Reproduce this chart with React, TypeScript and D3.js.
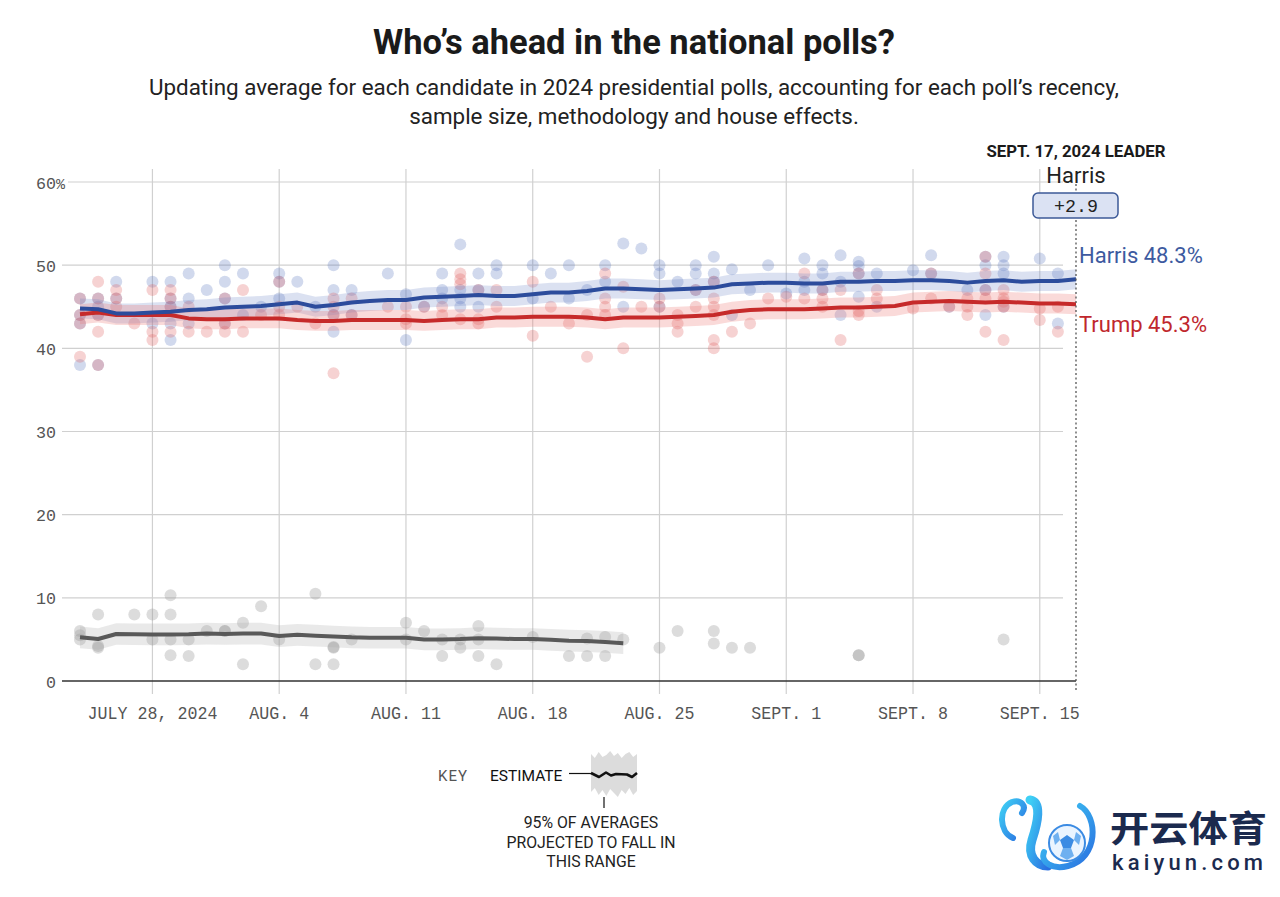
import React from "react";
import * as d3 from "d3";

const W = 1280;
const H = 897;

// ---------- DATA ----------
const avgStart = "2024-07-24";
const harrisAvg = [
  44.8, 44.7, 44.2, 44.2, 44.3, 44.4, 44.6, 44.7,
  44.9, 45.0, 45.1, 45.3, 45.5, 45.0, 45.2, 45.5, 45.7, 45.8, 45.8, 46.1, 46.2, 46.3, 46.4, 46.3, 46.3, 46.5,
  46.7, 46.7, 46.9, 47.2, 47.2, 47.1, 47.0, 47.1, 47.2, 47.3, 47.7, 47.8, 47.9,
  47.9, 47.8, 47.8, 48.0, 48.0, 48.1, 48.1, 48.2, 48.2, 48.1, 47.9, 48.1, 48.2, 48.0, 48.1, 48.1, 48.3,
];
const trumpAvg = [
  44.1, 44.3, 44.0, 44.0, 44.0, 44.0, 43.6, 43.5,
  43.5, 43.6, 43.6, 43.6, 43.4, 43.3, 43.3, 43.4, 43.4, 43.4, 43.4, 43.3, 43.4, 43.5, 43.5, 43.7, 43.7, 43.8,
  43.8, 43.8, 43.7, 43.5, 43.7, 43.7, 43.7, 43.8, 43.9, 44.0, 44.4, 44.6, 44.7,
  44.7, 44.7, 44.8, 44.9, 44.9, 45.0, 45.1, 45.5, 45.6, 45.7, 45.6, 45.5, 45.6, 45.5, 45.4, 45.4, 45.3,
];
const otherAvg = [
  5.25, 5.05, 5.65, 5.62, 5.6, 5.6, 5.62, 5.7,
  5.65, 5.7, 5.7, 5.4, 5.55, 5.45, 5.35, 5.25, 5.2, 5.2, 5.2, 5.0, 5.0, 5.05, 5.15, 5.1, 5.05, 5.05,
  4.95, 4.85, 4.8, 4.7, 4.55,
];
const bandHalf = { harris: 1.2, trump: 1.2, other: 1.3 };

const harrisPolls: [string, number[]][] = [
  ["07-24", [46, 44, 43, 38]], ["07-25", [46, 45, 44, 38]], ["07-26", [48, 46]],
  ["07-28", [48, 43]], ["07-29", [48, 46, 45, 43, 41]], ["07-30", [49, 46, 43]], ["07-31", [47]],
  ["08-01", [50, 48, 46, 43]], ["08-02", [49, 44]], ["08-03", [45]], ["08-04", [49, 48, 46]],
  ["08-05", [48]], ["08-06", [45]], ["08-07", [50, 47, 44, 42]], ["08-08", [47, 44]], ["08-10", [49]],
  ["08-11", [46.5, 41]], ["08-12", [45]], ["08-13", [49, 47, 46]], ["08-14", [52.5, 47, 46, 45]],
  ["08-15", [49, 47, 45]], ["08-16", [50, 49]], ["08-18", [50, 46]], ["08-19", [49]], ["08-20", [50, 46]],
  ["08-21", [47]], ["08-22", [50, 48]], ["08-23", [52.6, 45]], ["08-24", [52]], ["08-25", [50, 49, 45]],
  ["08-26", [48]], ["08-27", [50, 49, 47]], ["08-28", [51, 49, 48]], ["08-29", [49.5, 44]], ["08-30", [47]],
  ["08-31", [50]], ["09-01", [46.6]], ["09-02", [50.8, 48, 47]], ["09-03", [50, 49, 47]],
  ["09-04", [51.2, 48, 44]], ["09-05", [50.4, 49.9, 49, 46.2]], ["09-06", [49, 45]], ["09-08", [49.4]],
  ["09-09", [51.2, 49]], ["09-10", [45]], ["09-11", [47]], ["09-12", [51, 50, 47, 44]],
  ["09-13", [51, 50, 49, 45]], ["09-15", [50.8]], ["09-16", [49, 43]],
];
const trumpPolls: [string, number[]][] = [
  ["07-24", [46, 44, 43, 39]], ["07-25", [48, 46, 44, 42, 38]], ["07-26", [47, 46, 45]], ["07-27", [43]],
  ["07-28", [47, 42, 41]], ["07-29", [47, 46, 45, 42]], ["07-30", [45, 42]], ["07-31", [42]],
  ["08-01", [46, 43, 42]], ["08-02", [47, 42]], ["08-03", [44]], ["08-04", [48, 45, 44]], ["08-05", [45]],
  ["08-06", [43]], ["08-07", [46, 45, 44, 37]], ["08-08", [46, 44]], ["08-10", [45]], ["08-11", [45, 43.5, 43]],
  ["08-12", [45]], ["08-13", [45, 44]], ["08-14", [49, 48.3, 47.7, 43.5]], ["08-15", [47, 43.5, 43]],
  ["08-16", [47, 45]], ["08-18", [48, 41.5]], ["08-19", [45]], ["08-20", [43]], ["08-21", [44, 39]],
  ["08-22", [49, 46, 45, 44]], ["08-23", [47.4, 40]], ["08-24", [45]], ["08-25", [46, 45]],
  ["08-26", [44, 43, 42]], ["08-27", [47, 45]], ["08-28", [48, 46, 45, 44, 41, 40]], ["08-29", [42]],
  ["08-30", [43]], ["08-31", [46]], ["09-01", [46.2]], ["09-02", [49, 46]], ["09-03", [47, 46, 45]],
  ["09-04", [47, 41]], ["09-05", [49, 44.5, 44]], ["09-06", [47, 46]], ["09-08", [44.8]], ["09-09", [49, 46]],
  ["09-10", [45]], ["09-11", [46, 45, 44]], ["09-12", [51, 49, 47, 46, 42]], ["09-13", [47, 46, 45.6, 45, 41]],
  ["09-15", [44.8, 43.4]], ["09-16", [45, 42]],
];
const otherPolls: [string, number[]][] = [
  ["07-24", [6, 5.5, 5]], ["07-25", [8, 4.2, 4]], ["07-27", [8]], ["07-28", [8, 5]],
  ["07-29", [10.3, 8, 5, 3.1]], ["07-30", [5, 3]], ["07-31", [6]], ["08-01", [6, 6]], ["08-02", [7, 2]],
  ["08-03", [9]], ["08-04", [5]], ["08-06", [10.5, 2]], ["08-07", [4.1, 4, 2]], ["08-08", [5]],
  ["08-11", [7, 5]], ["08-12", [6]], ["08-13", [5, 3]], ["08-14", [5, 4]], ["08-15", [6.6, 5, 3]],
  ["08-16", [2]], ["08-18", [5.3]], ["08-20", [3]], ["08-21", [5.1, 3]], ["08-22", [5.3, 3]],
  ["08-23", [5]], ["08-25", [4]], ["08-26", [6]], ["08-28", [6, 4.5]], ["08-29", [4]], ["08-30", [4]],
  ["09-05", [3.1, 3.1]], ["09-13", [5]],
];

const xTickDates = ["2024-07-28", "2024-08-04", "2024-08-11", "2024-08-18", "2024-08-25", "2024-09-01", "2024-09-08", "2024-09-15"];
const xTickLabels = ["JULY 28, 2024", "AUG. 4", "AUG. 11", "AUG. 18", "AUG. 25", "SEPT. 1", "SEPT. 8", "SEPT. 15"];
const yTicks = [0, 10, 20, 30, 40, 50, 60];

const leaderDate = "SEPT. 17, 2024 LEADER";
const leaderName = "Harris";
const leaderMargin = "+2.9";
const harrisLabel = "Harris 48.3%";
const trumpLabel = "Trump 45.3%";

// ---------- HELPERS ----------
const parse = d3.timeParse("%Y-%m-%d");
const start = parse(avgStart) as Date;
const endDate = d3.timeDay.offset(start, harrisAvg.length - 1);

const x = d3.scaleTime().domain([start, endDate]).range([80, 1076]);
const y = d3.scaleLinear().domain([0, 60]).range([681, 182]);

type Pt = { d: Date; v: number };
const toSeries = (arr: number[]): Pt[] => arr.map((v, i) => ({ d: d3.timeDay.offset(start, i), v }));
const toPoints = (arr: [string, number[]][]): Pt[] =>
  arr.flatMap(([md, vs]) => vs.map((v) => ({ d: parse("2024-" + md) as Date, v })));

const line = d3.line<Pt>().x((p) => x(p.d)).y((p) => y(p.v));
const band = (hw: number) =>
  d3.area<Pt>().x((p) => x(p.d)).y0((p) => y(p.v - hw)).y1((p) => y(p.v + hw));

const monoFont = "'Liberation Mono', 'DejaVu Sans Mono', monospace";
const sansFont = "Roboto, 'Noto Sans', Arial, sans-serif";

// key glyph shapes (legend decoration)
const keyBandTop = [754, 758, 752, 757, 755, 751, 756, 753, 758, 754, 752, 757, 754];
const keyBandBot = [792, 788, 795, 790, 796, 789, 793, 797, 790, 794, 788, 795, 791];
const keyLine = [[0, 773], [8, 777], [15, 772.5], [20, 775.5], [25, 774], [36, 774.5], [41, 777], [46, 773]];

export default function App() {
  const harris = toSeries(harrisAvg);
  const trump = toSeries(trumpAvg);
  const other = toSeries(otherAvg);
  const hp = toPoints(harrisPolls);
  const tp = toPoints(trumpPolls);
  const op = toPoints(otherPolls);

  const xLeft = 62;
  const xRightGrid = 1063;
  const xEnd = x(endDate);

  const kx0 = 591;
  const kStep = 46 / (keyBandTop.length - 1);
  const keyBandPath =
    "M" + keyBandTop.map((t, i) => `${kx0 + i * kStep},${t}`).join("L") +
    "L" + keyBandBot.map((b, i) => `${kx0 + (keyBandBot.length - 1 - i) * kStep},${keyBandBot[keyBandBot.length - 1 - i]}`).join("L") + "Z";
  const keyLinePath = "M" + keyLine.map(([dx, yy]) => `${kx0 + dx},${yy}`).join("L");

  return (
    <svg
      width={W}
      height={H}
      viewBox={`0 0 ${W} ${H}`}
      style={{ position: "absolute", left: 0, top: 0, background: "#fff" }}
    >
      <defs>
        <linearGradient id="logoGrad" x1="0" y1="0" x2="1" y2="1">
          <stop offset="0%" stopColor="#3fd0f5" />
          <stop offset="100%" stopColor="#2a6fe0" />
        </linearGradient>
      </defs>
      <rect x={0} y={0} width={W} height={H} fill="#fff" />

      {/* Titles */}
      <text x={634} y={54} textAnchor="middle" fontFamily={sansFont} fontWeight={700} fontSize={34.5} fill="#1a1a1a">
        Who’s ahead in the national polls?
      </text>
      <text x={634} y={95} textAnchor="middle" fontFamily={sansFont} fontSize={22.4} fill="#222">
        Updating average for each candidate in 2024 presidential polls, accounting for each poll’s recency,
      </text>
      <text x={634} y={124} textAnchor="middle" fontFamily={sansFont} fontSize={22.4} fill="#222">
        sample size, methodology and house effects.
      </text>

      {/* Grid */}
      {yTicks.filter((t) => t > 0).map((t) => (
        <line key={"hg" + t} x1={t === 60 ? 68 : xLeft} x2={xRightGrid} y1={y(t)} y2={y(t)} stroke="#d0d0d0" strokeWidth={1.2} />
      ))}
      {xTickDates.map((ds) => {
        const xx = x(parse(ds) as Date);
        return <line key={"vg" + ds} x1={xx} x2={xx} y1={169} y2={694} stroke="#d0d0d0" strokeWidth={1.2} />;
      })}
      <line x1={xLeft} x2={xEnd} y1={y(0)} y2={y(0)} stroke="#333" strokeWidth={1.5} />

      {/* Y labels */}
      {yTicks.map((t) => (
        <g key={"yl" + t}>
          <text x={56} y={y(t) + 6.5} textAnchor="end" fontFamily={monoFont} fontSize={17} fill="#555"
            textLength={String(t).length * 10} lengthAdjust="spacingAndGlyphs">
            {t}
          </text>
          {t === 60 && (
            <text x={56} y={y(t) + 6.5} fontFamily={monoFont} fontSize={15} fill="#555">%</text>
          )}
        </g>
      ))}

      {/* X labels */}
      {xTickDates.map((ds, i) => (
        <text key={"xl" + ds} x={x(parse(ds) as Date)} y={719} textAnchor="middle" fontFamily={monoFont}
          fontSize={18.5} fill="#555" textLength={xTickLabels[i].length * 10} lengthAdjust="spacingAndGlyphs">
          {xTickLabels[i]}
        </text>
      ))}

      {/* Poll dots */}
      {op.map((p, i) => (
        <circle key={"op" + i} cx={x(p.d)} cy={y(p.v)} r={6} fill="#9c9c9c" fillOpacity={0.35} />
      ))}
      {hp.map((p, i) => (
        <circle key={"hp" + i} cx={x(p.d)} cy={y(p.v)} r={6} fill="#5b76bd" fillOpacity={0.28} />
      ))}
      {tp.map((p, i) => (
        <circle key={"tp" + i} cx={x(p.d)} cy={y(p.v)} r={6} fill="#df5f5c" fillOpacity={0.28} />
      ))}

      {/* Bands */}
      <path d={band(bandHalf.other)(other) || ""} fill="#a8a8a8" fillOpacity={0.25} />
      <path d={band(bandHalf.harris)(harris) || ""} fill="#6f88c8" fillOpacity={0.25} />
      <path d={band(bandHalf.trump)(trump) || ""} fill="#ec7b76" fillOpacity={0.28} />

      {/* Lines */}
      <path d={line(other) || ""} fill="none" stroke="#595959" strokeWidth={4} strokeLinejoin="round" />
      <path d={line(trump) || ""} fill="none" stroke="#c62a2a" strokeWidth={4} strokeLinejoin="round" />
      <path d={line(harris) || ""} fill="none" stroke="#2c4c9c" strokeWidth={4} strokeLinejoin="round" />

      {/* Leader annotation */}
      <line x1={xEnd} x2={xEnd} y1={184} y2={690} stroke="#555" strokeWidth={1.3} strokeDasharray="2,2.5" />
      <text x={xEnd} y={157} textAnchor="middle" fontFamily={sansFont} fontWeight={700} fontSize={16.8} fill="#1a1a1a">
        {leaderDate}
      </text>
      <text x={xEnd} y={183} textAnchor="middle" fontFamily={sansFont} fontSize={22} fill="#222">
        {leaderName}
      </text>
      <rect x={xEnd - 43} y={193} width={85} height={25} rx={5} fill="#dbe2f3" stroke="#3d5a98" strokeWidth={1.5} />
      <text x={xEnd} y={212} textAnchor="middle" fontFamily={monoFont} fontSize={18} fill="#222"
        textLength={44} lengthAdjust="spacingAndGlyphs">
        {leaderMargin}
      </text>
      <text x={xEnd + 3} y={y(48.3) - 16} fontFamily={sansFont} fontSize={22} fill="#3d5aa0">{harrisLabel}</text>
      <text x={xEnd + 3} y={y(45.3) + 28} fontFamily={sansFont} fontSize={22} fill="#c0272d">{trumpLabel}</text>

      {/* Key */}
      <text x={438} y={781} fontFamily={sansFont} fontSize={15} fill="#555" letterSpacing={1}>KEY</text>
      <text x={490} y={781} fontFamily={sansFont} fontSize={15.5} fill="#111">ESTIMATE</text>
      <line x1={569} x2={591} y1={773.5} y2={773.5} stroke="#111" strokeWidth={1.2} />
      <path d={keyBandPath} fill="#dcdcdc" />
      <path d={keyLinePath} fill="none" stroke="#111" strokeWidth={2.6} strokeLinejoin="round" />
      <line x1={604} x2={604} y1={797} y2={808} stroke="#111" strokeWidth={1.2} />
      <text x={591} y={828} textAnchor="middle" fontFamily={sansFont} fontSize={15.8} fill="#222">95% OF AVERAGES</text>
      <text x={591} y={848} textAnchor="middle" fontFamily={sansFont} fontSize={15.8} fill="#222">PROJECTED TO FALL IN</text>
      <text x={591} y={867} textAnchor="middle" fontFamily={sansFont} fontSize={15.8} fill="#222">THIS RANGE</text>

      {/* Watermark logo */}
      <g>
        <path d="M1013,838 C999,832 998,808 1012,802 C1021,799 1027,806 1022,813" fill="none" stroke="url(#logoGrad)" strokeWidth={6} strokeLinecap="round" />
        <path d="M1030,800 C1042,802 1038,822 1032,840 C1027,856 1036,866 1048,866" fill="none" stroke="url(#logoGrad)" strokeWidth={9} strokeLinecap="round" />
        <path d="M1080,806 C1098,816 1099,858 1068,866 C1052,870 1040,862 1044,852" fill="none" stroke="url(#logoGrad)" strokeWidth={6} strokeLinecap="round" />
        <circle cx={1067} cy={843} r={18} fill="#eaf4ff" stroke="#3b8be3" strokeWidth={2} />
        <path d="M1067,835 L1074,840 L1071,848 L1063,848 L1060,840 Z" fill="#3b8be3" />
        <path d="M1053,836 L1058,832 L1060,840 L1055,845 Z" fill="#6fb0f0" />
        <path d="M1081,836 L1076,832 L1074,840 L1079,845 Z" fill="#6fb0f0" />
        <path d="M1060,856 L1063,848 L1071,848 L1074,856 L1067,860 Z" fill="#6fb0f0" />
        <text x={1110} y={842} fontFamily="'Noto Sans CJK SC', sans-serif" fontWeight={700} fontSize={36} fill="#1b2a4e"
          textLength={157} lengthAdjust="spacingAndGlyphs">开云体育</text>
        <text x={1112} y={870} fontFamily={sansFont} fontWeight={500} fontSize={22} fill="#1b2a4e"
          textLength={151} lengthAdjust="spacing">kaiyun.com</text>
      </g>
    </svg>
  );
}
